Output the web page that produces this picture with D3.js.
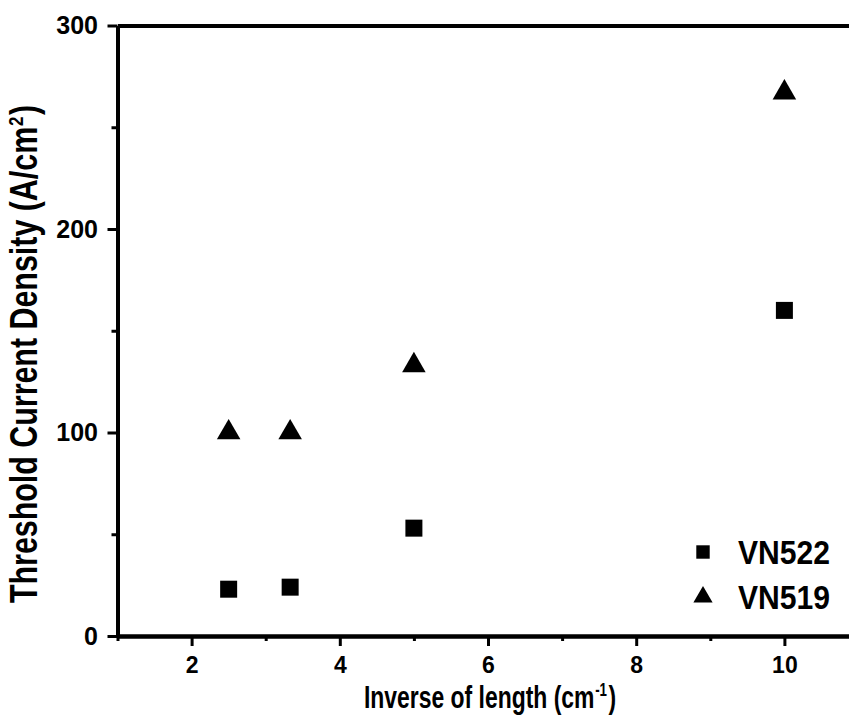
<!DOCTYPE html>
<html>
<head>
<meta charset="utf-8">
<script src="https://cdn.jsdelivr.net/npm/d3@7/dist/d3.min.js"></script>
<style>
  html, body { margin: 0; padding: 0; background: #fff; }
  svg { display: block; }
  text { font-family: "Liberation Sans", Arial, Helvetica, sans-serif; font-weight: bold; fill: #000; }
</style>
</head>
<body>
<svg id="chart" width="849" height="722"></svg>
<script>
// Threshold current density versus inverse cavity length
const inverseLength = [2.5, 3.33, 5, 10];
const vn522 = [23, 24, 53, 160];
const vn519 = [100, 100, 133, 267];
const seriesNames = ["VN522", "VN519"];

const xMajorTicks = [2, 4, 6, 8, 10];
const xMinorTicks = [1, 3, 5, 7, 9, 11];
const yMajorTicks = [0, 100, 200, 300];
const yMinorTicks = [50, 150, 250];

const svg = d3.select("#chart");

const plotLeft = 117.5, plotRight = 858.5, plotTop = 25.5, plotBottom = 636;

const x = d3.scaleLinear().domain([1, 11]).range([plotLeft, plotRight]);
const y = d3.scaleLinear().domain([0, 300]).range([plotBottom, plotTop]);

function styleAxis(g, width) {
  g.select(".domain").attr("stroke", "#000").attr("stroke-width", width);
  g.selectAll(".tick line").attr("stroke", "#000").attr("stroke-width", 3);
}

// bottom axis: minor ticks, then major ticks with labels
svg.append("g")
  .attr("transform", `translate(0,${plotBottom})`)
  .call(d3.axisBottom(x).tickValues(xMinorTicks).tickSize(5).tickSizeOuter(0).tickFormat(""))
  .call(g => styleAxis(g, 4));
svg.append("g")
  .attr("transform", `translate(0,${plotBottom})`)
  .call(d3.axisBottom(x).tickValues(xMajorTicks).tickSize(10).tickPadding(10.5).tickSizeOuter(0).tickFormat(d3.format("d")))
  .call(g => styleAxis(g, 4))
  .call(g => g.selectAll(".tick text").style("font-size", "23px"));

// left axis
svg.append("g")
  .attr("transform", `translate(${plotLeft},0)`)
  .call(d3.axisLeft(y).tickValues(yMinorTicks).tickSize(6).tickSizeOuter(0).tickFormat(""))
  .call(g => styleAxis(g, 4));
svg.append("g")
  .attr("transform", `translate(${plotLeft},0)`)
  .call(d3.axisLeft(y).tickValues(yMajorTicks).tickSize(10).tickPadding(9.5).tickSizeOuter(0).tickFormat(d3.format("d")))
  .call(g => styleAxis(g, 4))
  .call(g => g.selectAll(".tick text").style("font-size", "25px"));

// top frame line
svg.append("g")
  .attr("transform", `translate(0,${plotTop})`)
  .call(d3.axisTop(x).tickValues([]).tickSizeOuter(0))
  .call(g => styleAxis(g, 4));

// data markers
const squarePath = d3.symbol().type(d3.symbolSquare).size(289)();
const trianglePath = d3.symbol().type(d3.symbolTriangle).size(240)();

const plot = svg.append("g");
plot.selectAll("path.sq")
  .data(inverseLength.map((v, i) => [v, vn522[i]]))
  .join("path")
  .attr("class", "sq")
  .attr("d", squarePath)
  .attr("transform", d => `translate(${x(d[0])},${y(d[1])})`)
  .attr("fill", "#000");
plot.selectAll("path.tri")
  .data(inverseLength.map((v, i) => [v, vn519[i]]))
  .join("path")
  .attr("class", "tri")
  .attr("d", trianglePath)
  .attr("transform", d => `translate(${x(d[0])},${y(d[1])})`)
  .attr("fill", "#000");

// legend
const legend = svg.append("g");
const legendItems = [
  { name: seriesNames[0], path: d3.symbol().type(d3.symbolSquare).size(180)(), cy: 552 },
  { name: seriesNames[1], path: d3.symbol().type(d3.symbolTriangle).size(160)(), cy: 597 }
];
legendItems.forEach(item => {
  legend.append("path")
    .attr("d", item.path)
    .attr("transform", `translate(703,${item.cy})`)
    .attr("fill", "#000");
  legend.append("text")
    .attr("x", 738)
    .attr("y", item.cy + 12)
    .attr("textLength", 92)
    .attr("lengthAdjust", "spacingAndGlyphs")
    .style("font-size", "33px")
    .text(item.name);
});

// axis titles (condensed bold lettering)
const xTitle = svg.append("text")
  .attr("transform", "translate(490,708) scale(0.74,1)")
  .attr("text-anchor", "middle")
  .style("font-size", "31px");
xTitle.append("tspan").text("Inverse of length (cm");
xTitle.append("tspan").attr("dy", -12).attr("dx", 1).style("font-size", "18px").text("-1");
xTitle.append("tspan").attr("dy", 12).attr("dx", 2).text(")");

const yTitle = svg.append("text")
  .attr("transform", "translate(37,354) rotate(-90) scale(0.8,1)")
  .attr("text-anchor", "middle")
  .style("font-size", "38px");
yTitle.append("tspan").text("Threshold Current Density (A/cm");
yTitle.append("tspan").attr("dy", -14).attr("dx", 1).style("font-size", "21px").text("2");
yTitle.append("tspan").attr("dy", 14).attr("dx", 2).text(")");
</script>
</body>
</html>
